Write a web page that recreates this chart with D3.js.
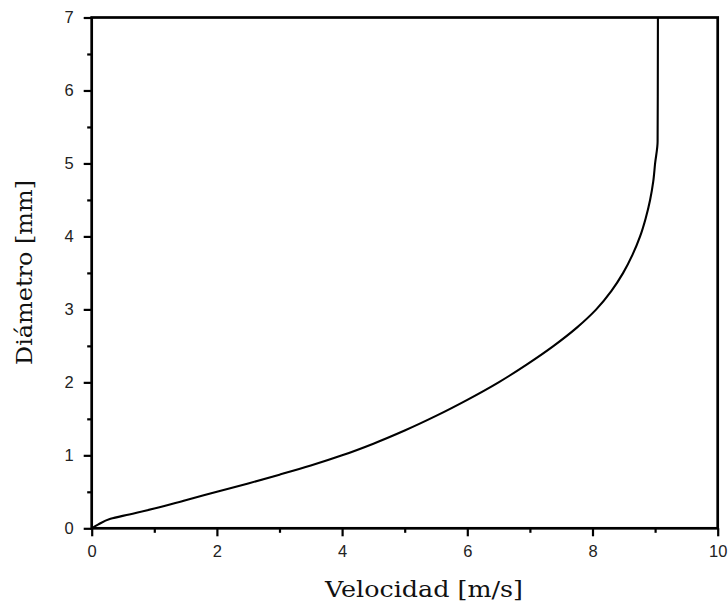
<!DOCTYPE html>
<html>
<head>
<meta charset="utf-8">
<script src="https://cdn.jsdelivr.net/npm/d3@7"></script>
<style>
  html, body { margin: 0; padding: 0; background: #fff; }
  svg { display: block; }
</style>
</head>
<body>
<svg id="chart" width="728" height="606"></svg>
<script>
// Velocity profile: diameter [mm] vs velocity [m/s]
const velocidad = [0, 0.1, 0.3, 0.6, 1.0, 1.5, 2.0, 2.5, 3.0, 3.5, 4.0, 4.5, 5.0, 5.5, 6.0, 6.5, 6.96, 7.38, 7.75, 8.06, 8.3, 8.49, 8.64, 8.76, 8.85, 8.92, 8.97, 9.0, 9.04, 9.045];
const diametro  = [0, 0.05, 0.13, 0.19, 0.27, 0.385, 0.50, 0.615, 0.735, 0.86, 1.0, 1.16, 1.34, 1.54, 1.76, 2.0, 2.25, 2.5, 2.75, 3.0, 3.25, 3.5, 3.75, 4.0, 4.25, 4.5, 4.75, 5.0, 5.3, 7.0];

const xMajor = [0, 2, 4, 6, 8, 10];
const xMinor = [1, 3, 5, 7, 9];
const yMajor = [0, 1, 2, 3, 4, 5, 6, 7];
const yMinor = [0.5, 1.5, 2.5, 3.5, 4.5, 5.5, 6.5];

const xTitle = "Velocidad [m/s]";
const yTitle = "Diámetro [mm]";

const svg = d3.select("#chart");
const plotLeft = 91.7, plotRight = 717.7, plotTop = 17.5, plotBottom = 528.3;

const x = d3.scaleLinear().domain([0, 10]).range([plotLeft, plotRight]);
const y = d3.scaleLinear().domain([0, 7]).range([plotBottom, plotTop]);

const tickFont = "'Liberation Sans', Arial, sans-serif";
const titleFont = "'DejaVu Serif', 'Liberation Serif', serif";

// curve
const pts = velocidad.map((v, i) => [v, diametro[i]]);
const line = d3.line().x(d => x(d[0])).y(d => y(d[1])).curve(d3.curveMonotoneY);
svg.append("path")
  .datum(pts)
  .attr("d", line)
  .attr("fill", "none")
  .attr("stroke", "#000")
  .attr("stroke-width", 2.1)
  .attr("stroke-linejoin", "round");

// frame
svg.append("rect")
  .attr("x", plotLeft).attr("y", plotTop)
  .attr("width", plotRight - plotLeft).attr("height", plotBottom - plotTop)
  .attr("fill", "none").attr("stroke", "#000").attr("stroke-width", 2.7);

// x axis
const xAxis = d3.axisBottom(x).tickValues(xMajor).tickSize(8).tickPadding(9).tickFormat(d3.format("d"));
const gx = svg.append("g").attr("transform", `translate(0,${plotBottom})`).call(xAxis);
gx.select(".domain").remove();
gx.selectAll(".tick line").attr("stroke", "#000").attr("stroke-width", 2.2);
gx.selectAll(".tick text").attr("font-family", tickFont).attr("font-size", 16.5).attr("fill", "#222");
const gxm = svg.append("g").attr("transform", `translate(0,${plotBottom})`)
  .call(d3.axisBottom(x).tickValues(xMinor).tickSize(4.5).tickFormat(""));
gxm.select(".domain").remove();
gxm.selectAll(".tick line").attr("stroke", "#000").attr("stroke-width", 2.2);

// y axis
const yAxis = d3.axisLeft(y).tickValues(yMajor).tickSize(8).tickPadding(10).tickFormat(d3.format("d"));
const gy = svg.append("g").attr("transform", `translate(${plotLeft},0)`).call(yAxis);
gy.select(".domain").remove();
gy.selectAll(".tick line").attr("stroke", "#000").attr("stroke-width", 2.2);
gy.selectAll(".tick text").attr("font-family", tickFont).attr("font-size", 16.5).attr("fill", "#222");
const gym = svg.append("g").attr("transform", `translate(${plotLeft},0)`)
  .call(d3.axisLeft(y).tickValues(yMinor).tickSize(4.5).tickFormat(""));
gym.select(".domain").remove();
gym.selectAll(".tick line").attr("stroke", "#000").attr("stroke-width", 2.2);

// titles
svg.append("text")
  .attr("x", 424).attr("y", 597)
  .attr("text-anchor", "middle")
  .attr("font-family", titleFont).attr("font-size", 21.5)
  .attr("textLength", 198).attr("lengthAdjust", "spacingAndGlyphs")
  .attr("fill", "#111")
  .text(xTitle);

svg.append("text")
  .attr("transform", "translate(32,272.5) rotate(-90)")
  .attr("text-anchor", "middle")
  .attr("font-family", titleFont).attr("font-size", 21.5)
  .attr("textLength", 185).attr("lengthAdjust", "spacingAndGlyphs")
  .attr("fill", "#111")
  .text(yTitle);
</script>
</body>
</html>
